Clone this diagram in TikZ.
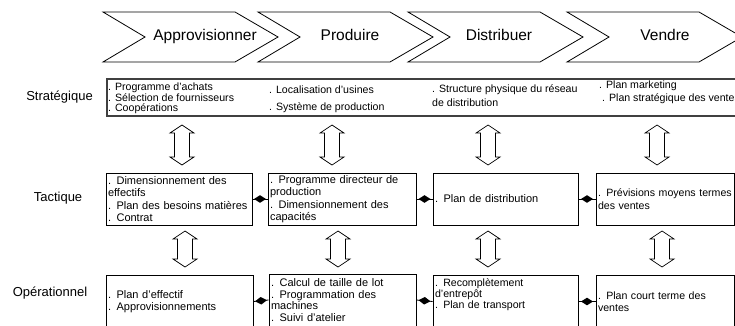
\documentclass[tikz,border=0pt]{standalone}
\usepackage{fontspec}
\setmainfont{Liberation Sans}
\usetikzlibrary{decorations.markings}

\tikzset{
    box/.style={draw, line width=0.8pt, text width=#1, minimum height=52pt,
        inner xsep=2pt, inner ysep=1pt, align=left,
        execute at begin node=\hyphenpenalty10000\relax,
        font=\fontsize{11}{12.5}\selectfont},
    coltext/.style={anchor=west, inner sep=0pt, align=left,
        font=\fontsize{11}{12}\selectfont},
    level/.style={font=\fontsize{13}{15}\selectfont},
    steplabel/.style={font=\fontsize{15.5}{17}\selectfont, text height=11.5pt, text depth=3.5pt},
    link/.style={line width=0.8pt,
        decoration={markings, mark=at position 0.5 with {\fill (-6pt,0) -- (0,3.8pt) -- (6pt,0) -- (0,-3.8pt) -- cycle;}},
        postaction=decorate},
}

\begin{document}
\begin{tikzpicture}[x=1pt, y=-1pt]

    %% Chaine logistique : niveaux de decision

    \newcommand{\chevronStep}[4]{
        \draw[line width=0.8pt] (#2,12) -- ++(132,0) -- ++(43,25) -- ++(-43,25) -- ++(-132,0) -- ++(42,-25) -- cycle;
        \node[steplabel] (#1) at (#3,36.5) {#4};
    }
    \newcommand{\twoWay}[3]{
        \draw[line width=0.7pt] (#1,#2) -- ++(12,8) -- ++(-4.5,0) -- ++(0,#3-16) -- ++(4.5,0) -- ++(-12,8)
            -- ++(-12,-8) -- ++(4.5,0) -- ++(0,16-#3) -- ++(-4.5,0) -- cycle;
    }

    \clip (0,0) rectangle (735,326);

    % Processus
    \chevronStep{appro}{103}{205}{Approvisionner}
    \chevronStep{prod}{258}{350}{Produire}
    \chevronStep{distr}{408}{499}{Distribuer}
    \chevronStep{vente}{567}{665}{Vendre}

    % Niveaux
    \node[level] (lstrat) at (59.5,97) {Stratégique};
    \node[level] (ltact) at (58,198) {Tactique};
    \node[level] (lop) at (50,293) {Opérationnel};

    % Strategique
    \node[draw, black!75, line width=1.2pt, minimum width=638pt, minimum height=37pt] (strat) at (426,97.5) {};
    \node[coltext, font=\fontsize{10.6}{9.8}\selectfont] (s1) at (108,98.5) {. Programme d’achats\\. Sélection de fournisseurs\\. Coopérations};
    \node[coltext, font=\fontsize{10.6}{17}\selectfont] (s2) at (269,99.5) {. Localisation d’usines\\. Système de production};
    \node[coltext, font=\fontsize{10.6}{14}\selectfont] (s3) at (432,95.5) {. Structure physique du réseau\\de distribution};
    \node[coltext, font=\fontsize{10.6}{13}\selectfont] (s4) at (599,92.5) {. Plan marketing\\\hspace*{3pt}. Plan stratégique des ventes};

    % Tactique
    \node[box=142pt] (t1) at (179,199) {. Dimensionnement des\\effectifs\\. Plan des besoins matières\\. Contrat};
    \node[box=144pt] (t2) at (342,199) {. Programme directeur de\\production\\. Dimensionnement des\\capacités};
    \node[box=141pt] (t3) at (505.5,199) {. Plan de distribution};
    \node[box=134pt, font=\fontsize{10.6}{13}\selectfont] (t4) at (665,199) {. Prévisions moyens termes\\des ventes};

    % Operationnel
    \node[box=143pt] (o1) at (179.5,301.5) {. Plan d’effectif\\. Approvisionnements};
    \node[box=143pt, font=\fontsize{11}{11.7}\selectfont] (o2) at (342.5,300) {. Calcul de taille de lot\\. Programmation des\\machines\\. Suivi d’atelier};
    \node[box=141pt, font=\fontsize{10.6}{11}\selectfont] (o3) at (505.5,301.5) {. Recomplètement\\d’entrepôt\\. Plan de transport\\[4pt]\mbox{}};
    \node[box=134pt, font=\fontsize{10.6}{12}\selectfont] (o4) at (665,301.5) {. Plan court terme des\\ventes};

    % Liens
    \draw[link] (t1.east) -- (t2.west);
    \draw[link] (t2.east) -- (t3.west);
    \draw[link] (t3.east) -- (t4.west);
    \draw[link] (o1.east) -- (o2.west);
    \draw[link] (o2.east) -- (o3.west);
    \draw[link] (o3.east) -- (o4.west);

    % Fleches entre niveaux
    \twoWay{182}{125}{40}
    \twoWay{332}{125}{40}
    \twoWay{488}{125}{40}
    \twoWay{657}{125}{40}
    \twoWay{185}{231}{36}
    \twoWay{338}{231}{36}
    \twoWay{488}{231}{36}
    \twoWay{662}{231}{36}

\end{tikzpicture}
\end{document}
